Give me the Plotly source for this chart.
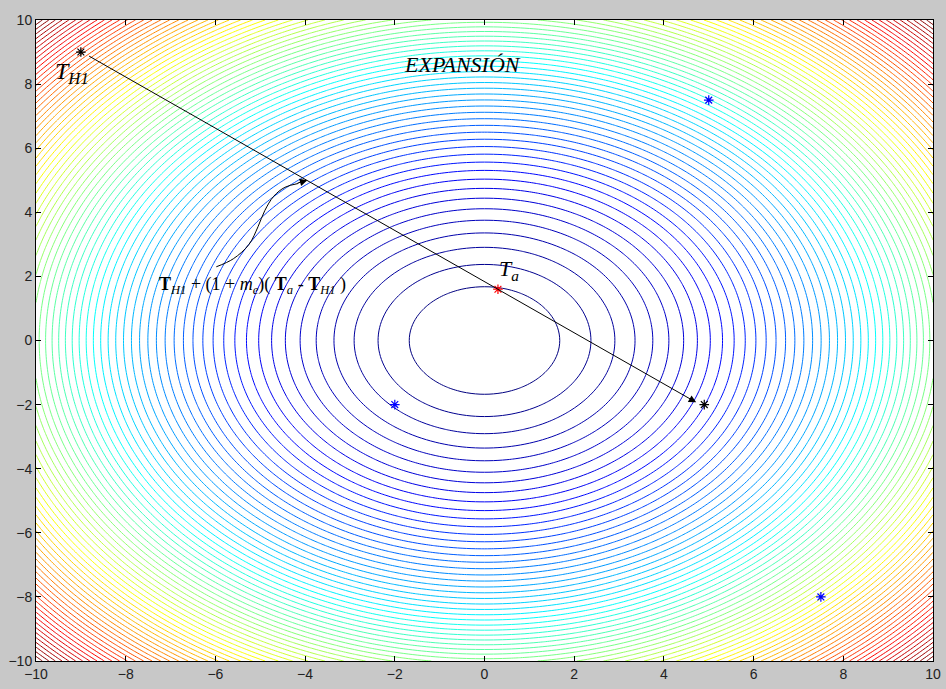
import numpy as np
import plotly.graph_objects as go

# --- data -------------------------------------------------------------
grid_x = np.linspace(-10, 10, 201)
grid_y = np.linspace(-10, 10, 201)
n_levels = 70
z_min, z_max = 0.0, 200.0

# simplex points (stars)
blue_x = [5.0, -2.0, 7.5]
blue_y = [7.5, -2.0, -8.0]
black_x = [-9.0, 4.9]
black_y = [9.0, -2.0]
red_x = [0.3]
red_y = [1.6]

# reflection / expansion arrow
arrow_from = (-9.0, 9.0)
arrow_to = (4.72, -1.93)

# curved pointer from the formula label to the expansion point
curve_x = [-5.98, -5.6, -5.25, -5.05, -4.9, -4.7, -4.45, -4.15]
curve_y = [2.30, 2.55, 3.00, 3.55, 4.05, 4.50, 4.78, 4.90]

# MATLAB jet colormap
jet = [[0.0, "rgb(0,0,128)"], [0.125, "rgb(0,0,255)"], [0.375, "rgb(0,255,255)"],
       [0.625, "rgb(255,255,0)"], [0.875, "rgb(255,0,0)"], [1.0, "rgb(128,0,0)"]]

X, Y = np.meshgrid(grid_x, grid_y)
Z = X ** 2 + Y ** 2
step = (z_max - z_min) / (n_levels + 1)

fig = go.Figure()
fig.add_trace(go.Contour(
    x=grid_x, y=grid_y, z=Z,
    zmin=z_min, zmax=z_max, colorscale=jet, showscale=False,
    contours=dict(coloring="lines", start=step, end=z_max - step / 2, size=step),
    line=dict(width=1), hoverinfo="skip",
))

fig.add_trace(go.Scatter(x=curve_x, y=curve_y, mode="lines", line=dict(color="black", width=1, shape="spline"),
                         showlegend=False, hoverinfo="skip"))

for xs, ys, col in [(blue_x, blue_y, "rgb(0,0,255)"), (black_x, black_y, "black"), (red_x, red_y, "rgb(255,0,0)")]:
    fig.add_trace(go.Scatter(x=xs, y=ys, mode="markers",
                             marker=dict(symbol="asterisk-open", size=8, color=col, line=dict(color=col, width=1.2)),
                             showlegend=False))

serif = "Liberation Serif, Times New Roman, serif"
annotations = [
    dict(x=arrow_to[0], y=arrow_to[1], ax=arrow_from[0] + 0.15, ay=arrow_from[1] - 0.1,
         xref="x", yref="y", axref="x", ayref="y", text="", showarrow=True,
         arrowhead=2, arrowsize=1.5, arrowwidth=1, arrowcolor="black"),
    dict(x=-3.95, y=5.0, ax=-4.2, ay=4.9, xref="x", yref="y", axref="x", ayref="y", text="",
         showarrow=True, arrowhead=2, arrowsize=1.5, arrowwidth=1, arrowcolor="black"),
    dict(x=-9.2, y=8.35, xref="x", yref="y", showarrow=False,
         text="<i>T</i><sub><i>H1</i></sub>", font=dict(family=serif, size=24, color="black")),
    dict(x=0.55, y=2.2, xref="x", yref="y", showarrow=False,
         text="<i>T</i><sub><i>a</i></sub>", font=dict(family=serif, size=22, color="black")),
    dict(x=-0.48, y=8.6, xref="x", yref="y", showarrow=False,
         text="<i>EXPANSIÓN</i>", font=dict(family=serif, size=22, color="black")),
    dict(x=-5.17, y=1.72, xref="x", yref="y", showarrow=False,
         text="<b>T</b><sub><i>H1</i></sub> + (1 + <i>m</i><sub><i>e</i></sub>)( <b>T</b><sub><i>a</i></sub> - <b>T</b><sub><i>H1</i></sub> )",
         font=dict(family=serif, size=18, color="black")),
]

axis_common = dict(range=[-10, 10], dtick=2, tick0=-10, ticks="inside", ticklen=5, tickcolor="black",
                   showline=True, linecolor="black", linewidth=1, mirror="ticks", showgrid=False,
                   zeroline=False, automargin=False,
                   tickfont=dict(family="Liberation Sans, Arial, sans-serif", size=14, color="#222"))

fig.update_layout(
    width=946, height=689,
    margin=dict(l=36, r=13, t=20, b=28),
    paper_bgcolor="rgb(200,200,200)", plot_bgcolor="white",
    xaxis=dict(**axis_common), yaxis=dict(**axis_common),
    annotations=annotations, showlegend=False,
)

fig.write_html("out.html", config={"displayModeBar": False},
               post_script="document.body.style.margin='0';document.body.style.padding='0';"
                           "document.body.style.background='rgb(200,200,200)';")
